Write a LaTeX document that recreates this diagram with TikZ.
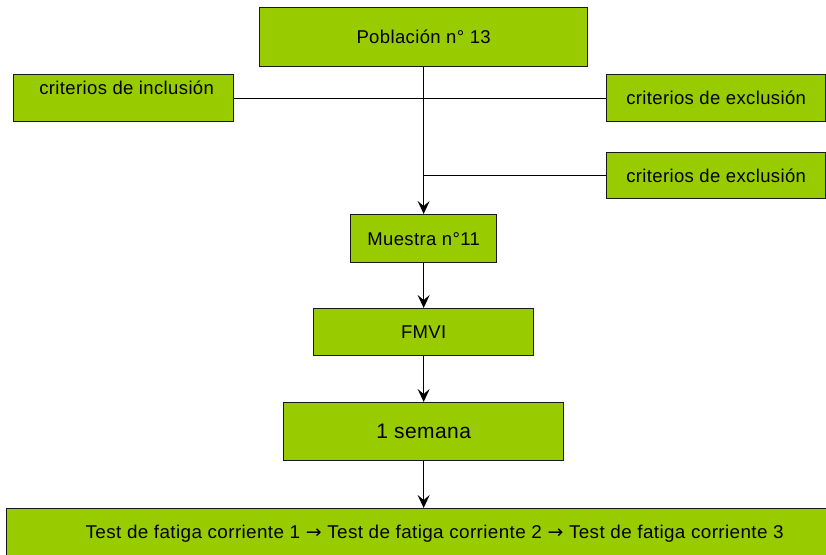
\documentclass[tikz,border=0pt]{standalone}
\usepackage{fontspec}
\setmainfont{Liberation Sans}
\newfontfamily\flechafont{DejaVu Sans}
\usetikzlibrary{arrows.meta}
\definecolor{verdecaja}{HTML}{99CC00}

\begin{document}
\begin{tikzpicture}[x=1pt, y=-1pt,
		caja/.style={draw=black!90, fill=verdecaja, line width=1.3pt, anchor=north west, inner sep=0pt, font=\fontsize{18.5}{21}\selectfont\addfontfeature{LetterSpace=2}},
		flecha/.style={line width=1.4pt, -{Stealth[length=13pt, width=12pt, inset=5pt]}}]
		\useasboundingbox (0,0) rectangle (826,554);

		\node[caja, minimum width=328, minimum height=59] (pob) at (259,7) {Población n° 13};
		\node[caja, minimum width=220, minimum height=47, align=center] (incl) at (13,74) {\hspace*{6pt}criterios de inclusión\\ ~};
		\node[caja, minimum width=219, minimum height=47] (excl1) at (606,74) {criterios de exclusión};
		\node[caja, minimum width=219, minimum height=46] (excl2) at (606,152) {criterios de exclusión};
		\node[caja, minimum width=146, minimum height=48] (mues) at (350,214) {Muestra n°11};
		\node[caja, minimum width=220, minimum height=47] (fmvi) at (313,308) {FMVI};
		\node[caja, minimum width=280, minimum height=58, font=\fontsize{21}{24}\selectfont\addfontfeature{LetterSpace=2}] (sem) at (283,402) {1 semana};
		\node[caja, minimum width=824, minimum height=50] (test) at (6,508) {\hspace*{32pt}\resizebox{698pt}{\height}{Test de fatiga corriente 1 {\flechafont →} Test de fatiga corriente 2 {\flechafont →} Test de fatiga corriente 3}};

		\draw[line width=1.3pt] (incl.east) -- (excl1.west);
		\draw[line width=1.3pt] (excl2.west) -- (excl2.west -| pob.south);
		\draw[flecha] (pob.south) -- (mues.north);
		\draw[flecha] (mues.south) -- (fmvi.north);
		\draw[flecha] (fmvi.south) -- (sem.north);
		\draw[flecha] (sem.south) -- (test.north -| sem.south);
	\end{tikzpicture}
\end{document}
